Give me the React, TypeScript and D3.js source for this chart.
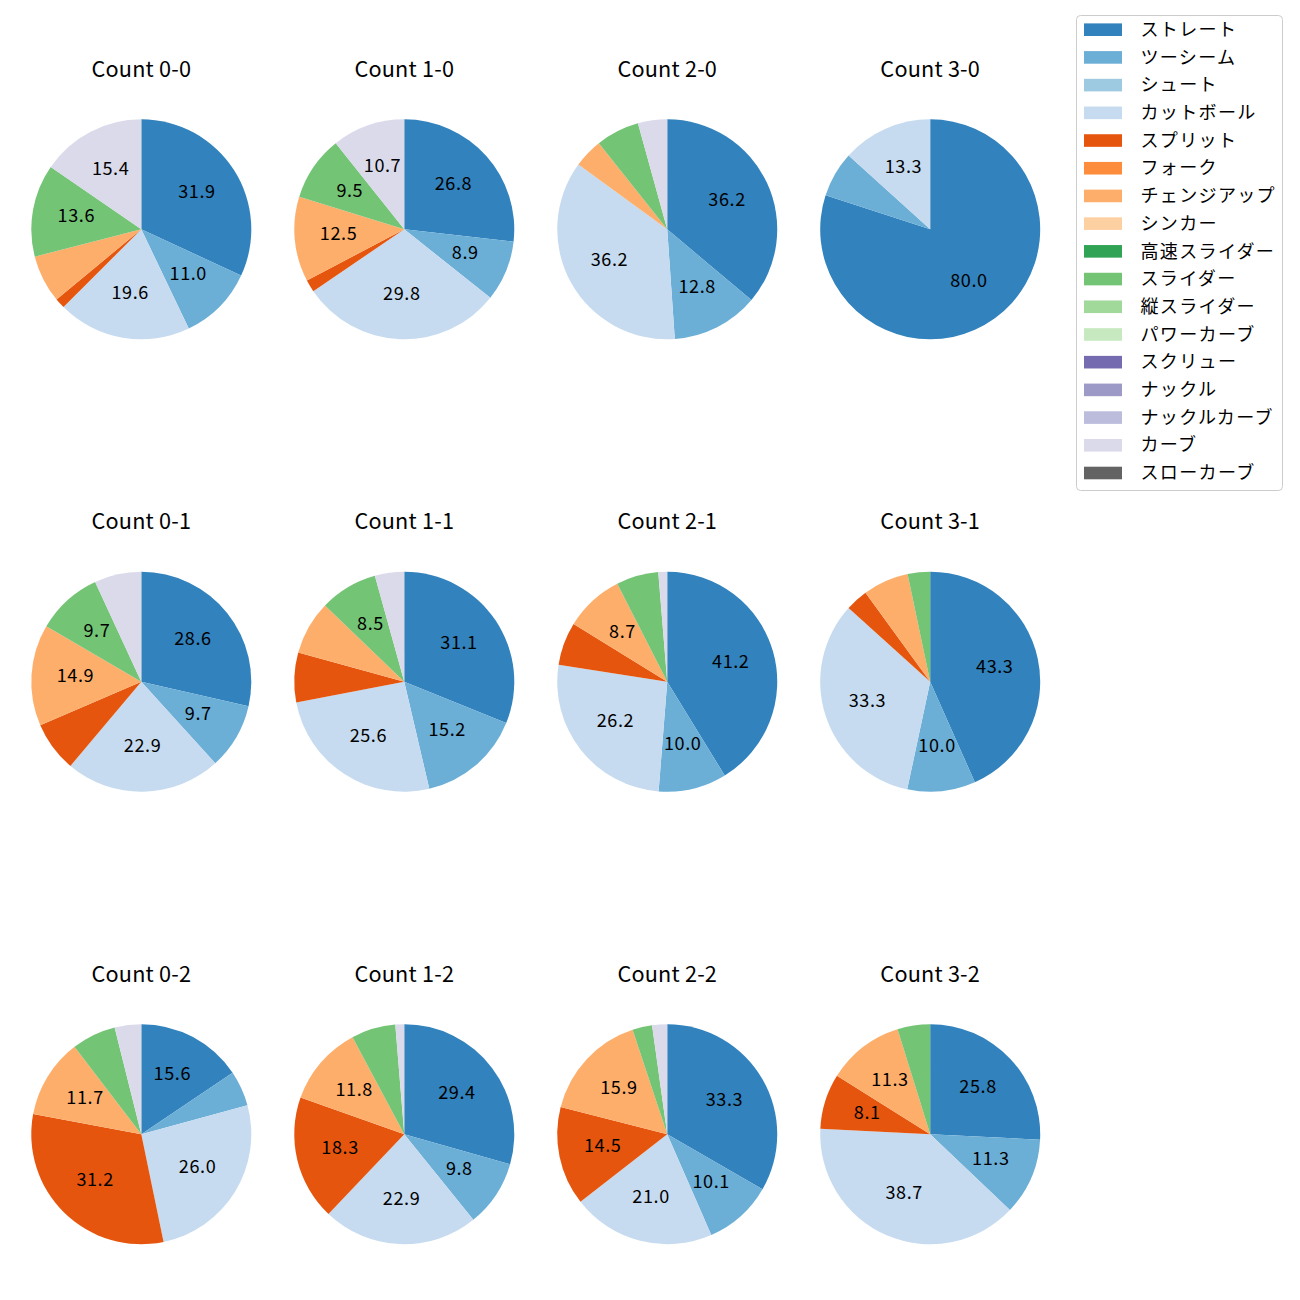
import React from 'react';
import * as d3 from 'd3';

const pitchTypes = ['ストレート', 'ツーシーム', 'シュート', 'カットボール', 'スプリット', 'フォーク', 'チェンジアップ', 'シンカー', '高速スライダー', 'スライダー', '縦スライダー', 'パワーカーブ', 'スクリュー', 'ナックル', 'ナックルカーブ', 'カーブ', 'スローカーブ'];
const pitchColors = ['#3182bd', '#6baed6', '#9ecae1', '#c6dbef', '#e6550d', '#fd8d3c', '#fdae6b', '#fdd0a2', '#31a354', '#74c476', '#a1d99b', '#c7e9c0', '#756bb1', '#9e9ac8', '#bcbddc', '#dadaeb', '#636363'];

const count00 = [31.9, 11.0, 0, 19.6, 1.5, 0, 7.0, 0, 0, 13.6, 0, 0, 0, 0, 0, 15.4, 0];
const count10 = [26.8, 8.9, 0, 29.8, 1.8, 0, 12.5, 0, 0, 9.5, 0, 0, 0, 0, 0, 10.7, 0];
const count20 = [36.2, 12.8, 0, 36.2, 0, 0, 4.3, 0, 0, 6.4, 0, 0, 0, 0, 0, 4.3, 0];
const count30 = [80.0, 6.7, 0, 13.3, 0, 0, 0, 0, 0, 0, 0, 0, 0, 0, 0, 0, 0];
const count01 = [28.6, 9.7, 0, 22.9, 7.4, 0, 14.9, 0, 0, 9.7, 0, 0, 0, 0, 0, 6.9, 0];
const count11 = [31.1, 15.2, 0, 25.6, 7.3, 0, 7.9, 0, 0, 8.5, 0, 0, 0, 0, 0, 4.3, 0];
const count21 = [41.2, 10.0, 0, 26.2, 6.3, 0, 8.7, 0, 0, 6.2, 0, 0, 0, 0, 0, 1.3, 0];
const count31 = [43.3, 10.0, 0, 33.3, 3.3, 0, 6.7, 0, 0, 3.3, 0, 0, 0, 0, 0, 0, 0];
const count02 = [15.6, 5.2, 0, 26.0, 31.2, 0, 11.7, 0, 0, 6.5, 0, 0, 0, 0, 0, 3.9, 0];
const count12 = [29.4, 9.8, 0, 22.9, 18.3, 0, 11.8, 0, 0, 6.5, 0, 0, 0, 0, 0, 1.3, 0];
const count22 = [33.3, 10.1, 0, 21.0, 14.5, 0, 15.9, 0, 0, 2.9, 0, 0, 0, 0, 0, 2.2, 0];
const count32 = [25.8, 11.3, 0, 38.7, 8.1, 0, 11.3, 0, 0, 4.8, 0, 0, 0, 0, 0, 0, 0];

const countTitles = ['Count 0-0', 'Count 1-0', 'Count 2-0', 'Count 3-0', 'Count 0-1', 'Count 1-1', 'Count 2-1', 'Count 3-1', 'Count 0-2', 'Count 1-2', 'Count 2-2', 'Count 3-2'];
const countValues = [count00, count10, count20, count30, count01, count11, count21, count31, count02, count12, count22, count32];

const FONT = '"Noto Sans CJK JP", "Noto Sans", sans-serif';
const LABEL_MIN = 8;

export default function App() {
  const W = 1300, H = 1300;
  const R = 110;
  const colX = d3.scaleLinear().domain([0, 3]).range([141.3, 930.2]);
  const rowY = d3.scaleLinear().domain([0, 2]).range([229.3, 1134.2]);
  const pie = d3.pie<number>().sort(null).value(d => d).startAngle(0).endAngle(2 * Math.PI);
  const arc = d3.arc<d3.PieArcDatum<number>>().innerRadius(0).outerRadius(R);
  const labelArc = d3.arc<d3.PieArcDatum<number>>().innerRadius(R * 0.6).outerRadius(R * 0.6);

  const legendY = d3.scaleLinear().domain([0, pitchTypes.length - 1]).range([29.7, 473]);

  return (
    <div style={{ position: 'absolute', left: 0, top: 0, background: '#fff' }}>
      <svg width={W} height={H} style={{ display: 'block', fontFamily: FONT }}>
        <rect x={0} y={0} width={W} height={H} fill="#fff" />
        {countValues.map((vals, i) => {
          const cx = colX(i % 4);
          const cy = rowY(Math.floor(i / 4));
          const arcs = pie(vals);
          return (
            <g key={i} transform={`translate(${cx},${cy})`}>
              {arcs.map((a, j) => a.value > 0 ? (
                <path key={j} d={arc(a) || ''} fill={pitchColors[j]} />
              ) : null)}
              {arcs.map((a, j) => {
                if (a.value < LABEL_MIN) return null;
                const [lx, ly] = labelArc.centroid(a);
                return (
                  <text key={'t' + j} x={lx} y={ly - 3.5} textAnchor="middle" dominantBaseline="central" fontSize={18.06} letterSpacing={0.6} fill="#000">
                    {a.value.toFixed(1)}
                  </text>
                );
              })}
              <text x={0} y={-162} textAnchor="middle" dominantBaseline="central" fontSize={21.67} letterSpacing={0.2} fill="#000">
                {countTitles[i]}
              </text>
            </g>
          );
        })}
        <g>
          <rect x={1076.5} y={15.5} width={206} height={475} rx={4} ry={4} fill="#fff" fillOpacity={0.8} stroke="#cccccc" strokeWidth={1} />
          {pitchTypes.map((p, k) => (
            <g key={p} transform={`translate(0,${legendY(k)})`}>
              <rect x={1084} y={-6.3} width={38} height={12.6} fill={pitchColors[k]} />
              <text x={1140.5} y={-1.8} dominantBaseline="central" fontSize={18.06} letterSpacing={1.3} fill="#000">{p}</text>
            </g>
          ))}
        </g>
      </svg>
    </div>
  );
}
